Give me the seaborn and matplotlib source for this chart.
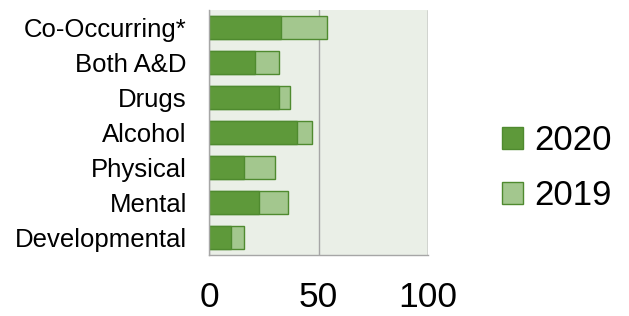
import matplotlib
matplotlib.use("Agg")
import matplotlib.pyplot as plt
import seaborn as sns
import pandas as pd

# 데이터
categories = ["Co-Occurring*", "Both A&D", "Drugs", "Alcohol", "Physical", "Mental", "Developmental"]
values_2020 = [33, 21, 32, 40, 16, 23, 10]
values_2019 = [21, 11, 5, 7, 14, 13, 6]
x_ticks = [0, 50, 100]

df = pd.DataFrame({"cat": categories, "y2020": values_2020, "y2019": values_2019})
df["total"] = df["y2020"] + df["y2019"]

sns.set_style("white")
plt.rcParams["font.family"] = ["Liberation Sans", "DejaVu Sans"]
plt.rcParams["text.color"] = "black"

dark = "#5E993A"
light = "#A3C78E"
edge = "#4F8A2F"

fig = plt.figure(figsize=(6.29, 3.16), dpi=100)
ax = fig.add_axes([0.3323, 0.193, 0.3482, 0.775])
ax.set_facecolor("#EAEFE7")

# 누적 막대: 전체(2019 포함) 먼저, 그 위에 2020
sns.barplot(data=df, x="total", y="cat", color=light, orient="h", width=0.66,
            edgecolor=edge, linewidth=1, saturation=1, ax=ax, label="2019")
sns.barplot(data=df, x="y2020", y="cat", color=dark, orient="h", width=0.66,
            edgecolor=edge, linewidth=1, saturation=1, ax=ax, label="2020")

ax.set_xlim(0, 100)
ax.set_ylim(6.5, -0.5)
ax.set_xticks(x_ticks)
ax.set_xticklabels([str(t) for t in x_ticks], fontsize=25.5)
ax.tick_params(axis="x", length=0, pad=19, labelcolor="black")
ax.tick_params(axis="y", length=0, pad=16, labelsize=18.5, labelcolor="black")
ax.set_xlabel("")
ax.set_ylabel("")
ax.xaxis.grid(True, color="#A6A6A6", linewidth=1)
ax.set_axisbelow(True)
for s in ["top", "right"]:
    ax.spines[s].set_visible(False)
for s in ["left", "bottom"]:
    ax.spines[s].set_color("#A6A6A6")
    ax.spines[s].set_linewidth(1)
ax.axvline(100, color="#A6A6A6", linewidth=1)

handles, labels = ax.get_legend_handles_labels()
if ax.get_legend() is not None:
    ax.get_legend().remove()
order = [labels.index("2020"), labels.index("2019")]
fig.legend([handles[i] for i in order], [labels[i] for i in order],
           loc="center left", bbox_to_anchor=(0.748, 0.468), frameon=False,
           fontsize=25, handlelength=0.6, handleheight=0.6,
           handletextpad=0.35, labelspacing=0.62, labelcolor="black")

plt.savefig("out.png", dpi=100)
